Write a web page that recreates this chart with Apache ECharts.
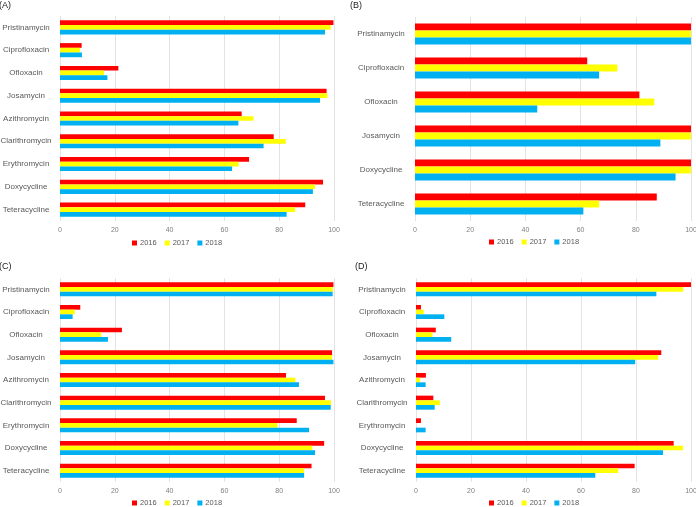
<!DOCTYPE html>
<html>
<head>
<meta charset="utf-8">
<script src="https://cdn.jsdelivr.net/npm/echarts@6/dist/echarts.min.js"></script>
<style>
  html, body { margin: 0; padding: 0; background: #fff; }
  #chart { width: 696px; height: 507px; }
</style>
</head>
<body>
<div id="chart"></div>
<script>
// categories, top to bottom
const drugs9 = ['Pristinamycin', 'Ciprofloxacin', 'Ofloxacin', 'Josamycin', 'Azithromycin',
  'Clarithromycin', 'Erythromycin', 'Doxycycline', 'Teteracycline'];
const drugs6 = ['Pristinamycin', 'Ciprofloxacin', 'Ofloxacin', 'Josamycin', 'Doxycycline', 'Teteracycline'];
const years = ['2016', '2017', '2018'];
const colors = ['#ff0000', '#ffff00', '#00b0f0'];

// panel A
const a2016 = [99.8, 7.9, 21.3, 97.3, 66.3, 78.0, 69.0, 96.0, 89.5];
const a2017 = [98.8, 7.3, 16.1, 97.6, 70.6, 82.4, 65.2, 93.1, 85.8];
const a2018 = [96.7, 8.0, 17.3, 94.9, 65.1, 74.3, 62.8, 92.3, 82.7];
// panel B
const b2016 = [100, 62.4, 81.3, 100, 100, 87.6];
const b2017 = [100, 73.3, 86.7, 100, 100, 66.7];
const b2018 = [100, 66.7, 44.3, 88.9, 94.4, 61.0];
// panel C
const c2016 = [99.8, 7.4, 22.6, 99.3, 82.5, 96.7, 86.4, 96.4, 91.8];
const c2017 = [99.6, 5.4, 15.0, 99.3, 85.9, 98.9, 79.4, 92.1, 89.1];
const c2018 = [99.5, 4.6, 17.5, 99.8, 87.2, 98.8, 90.9, 93.1, 89.1];
// panel D
const d2016 = [100, 1.8, 7.2, 89.2, 3.6, 6.3, 1.8, 93.7, 79.5];
const d2017 = [97.2, 2.8, 6.0, 88.1, 1.5, 8.7, 0, 97.1, 73.5];
const d2018 = [87.4, 10.3, 12.8, 79.7, 3.5, 6.8, 3.5, 89.8, 65.2];

const panels = [
  { tag: '(A)', cats: drugs9, data: [a2016, a2017, a2018] },
  { tag: '(B)', cats: drugs6, data: [b2016, b2017, b2018] },
  { tag: '(C)', cats: drugs9, data: [c2016, c2017, c2018] },
  { tag: '(D)', cats: drugs9, data: [d2016, d2017, d2018] }
];

const gridPos = [
  { left: 60, top: 16, width: 274, height: 205 },
  { left: 415, top: 17, width: 276, height: 204 },
  { left: 60, top: 278, width: 274, height: 204 },
  { left: 416, top: 278, width: 275, height: 204 }
];
const titlePos = [[-1, 1], [350, 1], [-1, 262], [355, 262]];
const legendPos = [[132, 239], [489, 238], [132, 499], [489, 499]];

const font = 'Liberation Sans';
const grid = [], xAxis = [], yAxis = [], series = [], title = [], legend = [];

panels.forEach((p, i) => {
  grid.push(Object.assign({ containLabel: false, outerBoundsMode: 'none' }, gridPos[i]));
  title.push({
    text: p.tag, left: titlePos[i][0], top: titlePos[i][1], padding: 0,
    textStyle: { fontSize: 9, fontWeight: 'normal', color: '#222', fontFamily: font }
  });
  legend.push({
    left: legendPos[i][0], top: legendPos[i][1], padding: 0,
    data: years, icon: 'rect', itemWidth: 5, itemHeight: 5, itemGap: 8,
    textStyle: { fontSize: 7.5, color: '#595959', fontFamily: font, padding: [0, 0, 0, -2] }
  });
  xAxis.push({
    type: 'value', gridIndex: i, min: 0, max: 100, interval: 20,
    axisLine: { show: false }, axisTick: { show: false },
    axisLabel: { fontSize: 7, color: '#7f7f7f', margin: 6, fontFamily: font },
    splitLine: { lineStyle: { color: '#e3e3e3', width: 1 } }
  });
  // Excel centres the category labels in the space left of the plot
  yAxis.push({
    type: 'category', gridIndex: i, data: p.cats, inverse: true,
    axisLine: { show: false }, axisTick: { show: false },
    axisLabel: { fontSize: 8, color: '#595959', margin: 34, align: 'center', fontFamily: font }
  });
  years.forEach((y, k) => {
    series.push({
      name: y, type: 'bar', xAxisIndex: i, yAxisIndex: i,
      data: p.data[k], barGap: '0%', barCategoryGap: '38%',
      itemStyle: { color: colors[k] }, animation: false
    });
  });
});

const chart = echarts.init(document.getElementById('chart'));
chart.setOption({
  backgroundColor: '#fff',
  color: colors,
  title, legend, grid, xAxis, yAxis, series
});
</script>
</body>
</html>
